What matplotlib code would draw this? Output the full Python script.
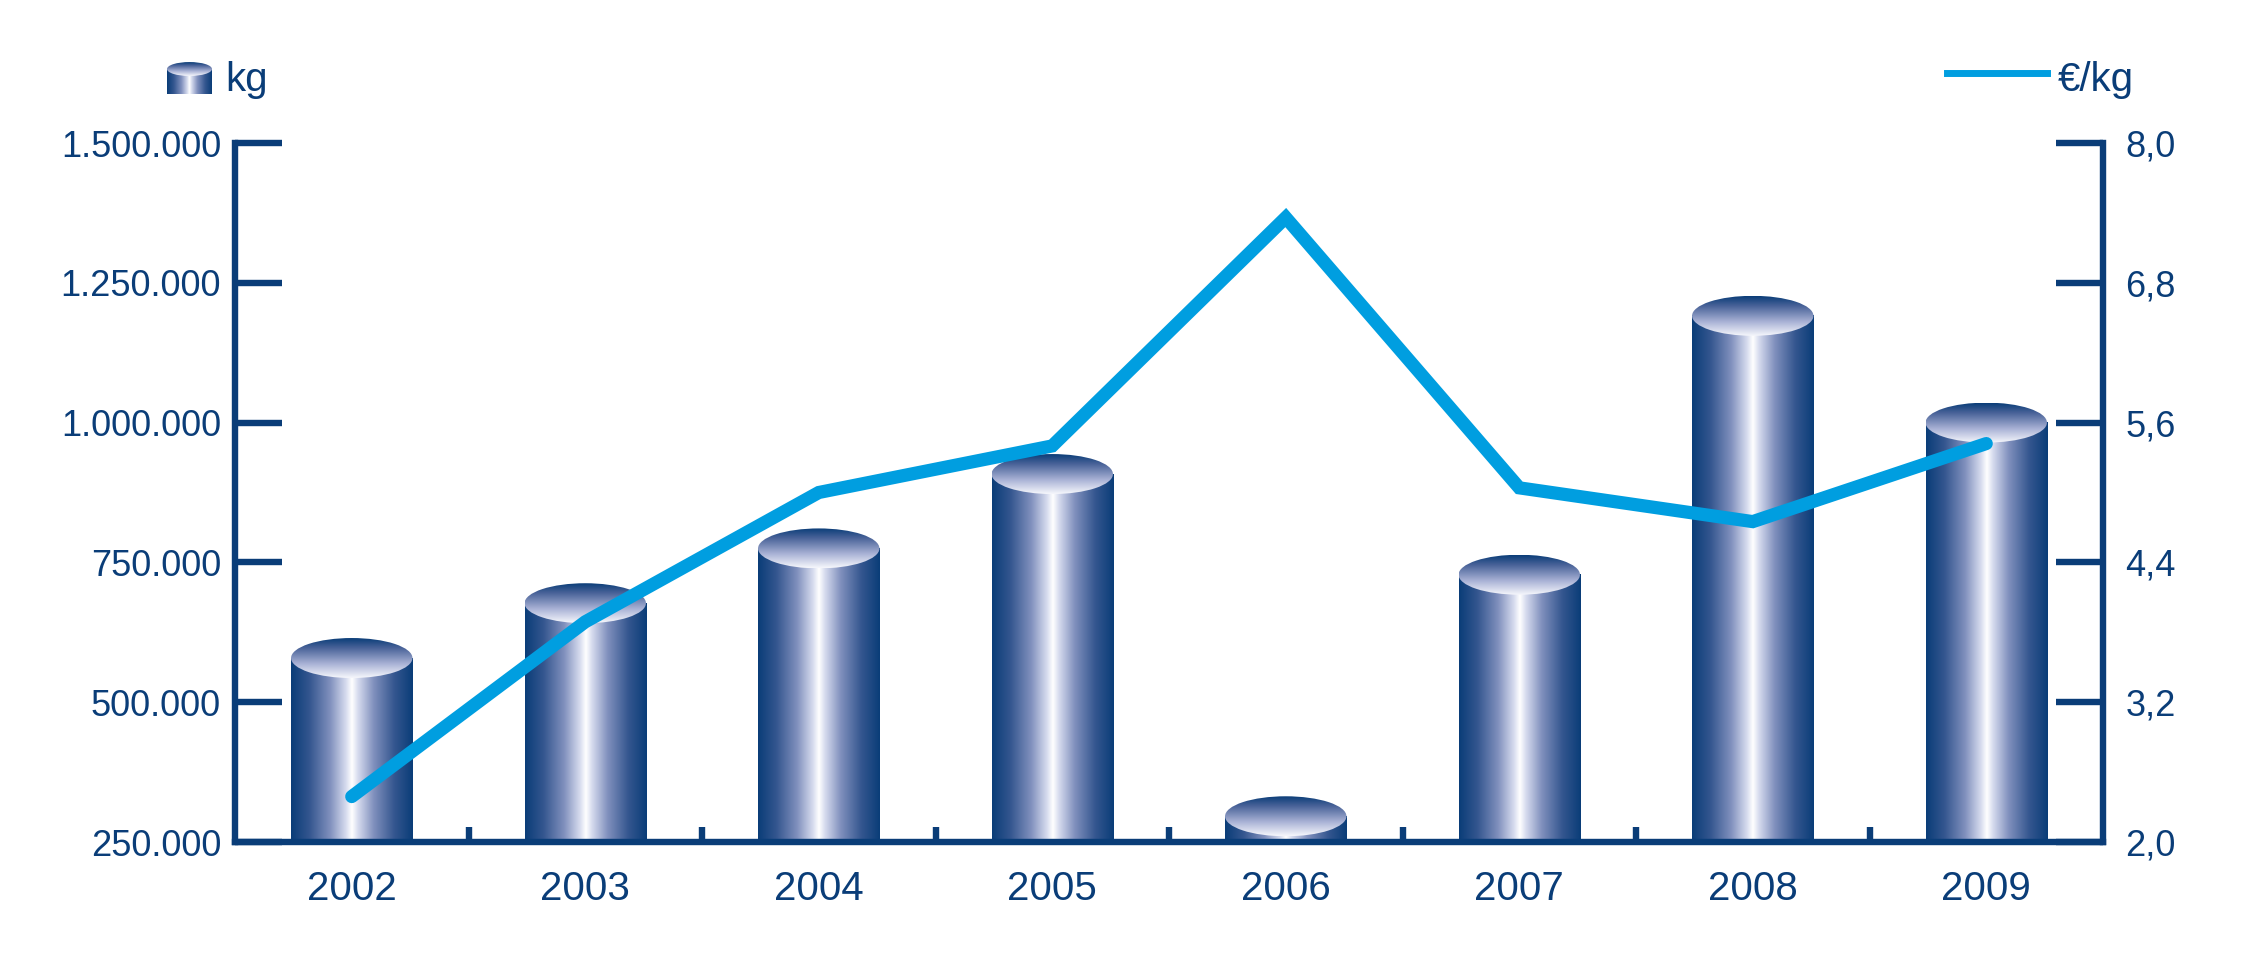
import numpy as np
import matplotlib
matplotlib.use('Agg')
import matplotlib.pyplot as plt
from matplotlib.colors import LinearSegmentedColormap
from matplotlib.patches import Ellipse
from matplotlib.lines import Line2D

plt.rcParams['font.family'] = ['Liberation Sans', 'DejaVu Sans']

# Datos
anios = ['2002', '2003', '2004', '2005', '2006', '2007', '2008', '2009']
kg = [579000, 677000, 775000, 908000, 296000, 728000, 1191000, 1000000]
precio = [2.39, 3.89, 5.0, 5.4, 7.36, 5.04, 4.75, 5.42]

kg_ticks = [250000, 500000, 750000, 1000000, 1250000, 1500000]
kg_labels = ['250.000', '500.000', '750.000', '1.000.000', '1.250.000', '1.500.000']
precio_ticks = [2.0, 3.2, 4.4, 5.6, 6.8, 8.0]
precio_labels = ['2,0', '3,2', '4,4', '5,6', '6,8', '8,0']

azul = '#0a3d78'
celeste = '#009ee0'

cmap_cuerpo = LinearSegmentedColormap.from_list('cuerpo', [
    (0.0, '#0a3d78'), (0.15, '#34568f'), (0.32, '#8090bd'),
    (0.45, '#d6dbee'), (0.5, '#ffffff'), (0.55, '#d6dbee'),
    (0.68, '#8090bd'), (0.85, '#34568f'), (1.0, '#0a3d78')])
cmap_tapa = LinearSegmentedColormap.from_list('tapa', [
    (0.0, '#f6f7fc'), (0.35, '#aab3d6'), (0.75, '#4a6399'), (1.0, '#0a3d78')])


# Función para dibujar un cilindro con degradado
def cilindro(ax, xc, w, y0, y1, eh):
    cuerpo = np.linspace(0, 1, 256)[None, :]
    ax.imshow(cuerpo, cmap=cmap_cuerpo, aspect='auto', interpolation='bilinear',
              extent=[xc - w / 2, xc + w / 2, y0, y1], origin='lower', zorder=2)
    tapa = np.linspace(0, 1, 256)[:, None]
    im = ax.imshow(tapa, cmap=cmap_tapa, aspect='auto', interpolation='bilinear',
                   extent=[xc - w / 2, xc + w / 2, y1 - eh / 2, y1 + eh / 2],
                   origin='lower', zorder=3)
    elipse = Ellipse((xc, y1), w, eh, transform=ax.transData)
    im.set_clip_path(elipse)


fig = plt.figure(figsize=(22.5, 9.6), dpi=100)
ax = fig.add_axes([235 / 2250, 118 / 960, 1868 / 2250, 699 / 960])
ax2 = ax.twinx()

# Barras cilíndricas
ancho = 0.52
alto_tapa = 71500
for i, v in enumerate(kg):
    cilindro(ax, i, ancho, kg_ticks[0], v, alto_tapa)

ax.set_xlim(-0.5, len(anios) - 0.5)
ax.set_ylim(kg_ticks[0], kg_ticks[-1])

# Línea de precio
ax2.plot(range(len(anios)), precio, color=celeste, lw=9.5,
         solid_capstyle='round', solid_joinstyle='miter')
ax2.set_ylim(precio_ticks[0], precio_ticks[-1])

# Ejes
for s in ['top', 'right']:
    ax.spines[s].set_visible(False)
for s in ['top', 'left', 'bottom']:
    ax2.spines[s].set_visible(False)
for s in ['left', 'bottom']:
    ax.spines[s].set_linewidth(4.6)
    ax.spines[s].set_color(azul)
ax2.spines['right'].set_linewidth(4.6)
ax2.spines['right'].set_color(azul)

ax.set_yticks(kg_ticks)
ax.set_yticklabels(kg_labels)
ax.tick_params(axis='y', direction='in', length=34, width=4.6, color=azul,
               labelcolor=azul, labelsize=26, pad=10)

ax.set_xticks(range(len(anios)))
ax.set_xticklabels(anios)
ax.set_xticks(np.arange(0.5, len(anios) - 1, 1.0), minor=True)
ax.tick_params(axis='x', which='major', length=0, labelcolor=azul,
               labelsize=29, pad=20)
ax.tick_params(axis='x', which='minor', direction='in', length=11, width=4.6,
               color=azul)

ax2.set_yticks(precio_ticks)
ax2.set_yticklabels(precio_labels)
ax2.tick_params(axis='y', direction='in', length=34, width=4.6, color=azul,
                labelcolor=azul, labelsize=26, pad=16)

# Leyenda
icono = fig.add_axes([167 / 2250, (960 - 94) / 960, 45 / 2250, 34 / 960])
icono.set_xlim(0, 1)
icono.set_ylim(0, 1)
icono.axis('off')
cilindro(icono, 0.5, 1.0, 0.0, 0.735, 0.41)
fig.text(225 / 2250, 1 - 80 / 960, 'kg', fontsize=29, color=azul, va='center')

fig.add_artist(Line2D([1947 / 2250, 2047 / 2250], [1 - 73 / 960] * 2,
                      transform=fig.transFigure, color=celeste, lw=5))
fig.text(2058 / 2250, 1 - 80 / 960, '€/kg', fontsize=29, color=azul, va='center')

fig.savefig('out.png', dpi=100)
